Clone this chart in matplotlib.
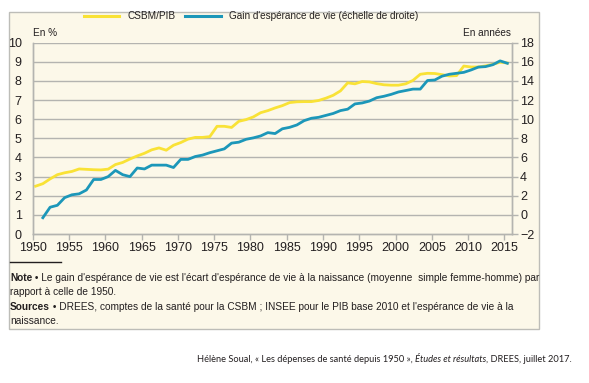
import matplotlib
matplotlib.use("Agg")
import matplotlib.pyplot as plt
from matplotlib.patches import Rectangle
from matplotlib.lines import Line2D
import numpy as np

plt.rcParams['font.family'] = ['Liberation Sans', 'DejaVu Sans']

# ---- data ----
years_csbm = list(range(1950, 2016))
csbm_pib = [2.50, 2.63, 2.88, 3.10, 3.20, 3.27, 3.40, 3.38, 3.36, 3.35,
            3.39, 3.63, 3.74, 3.92, 4.08, 4.22, 4.40, 4.50, 4.38, 4.64,
            4.78, 4.96, 5.05, 5.05, 5.09, 5.63, 5.63, 5.57, 5.89, 5.98,
            6.12, 6.34, 6.45, 6.59, 6.71, 6.87, 6.91, 6.92, 6.92, 6.98,
            7.10, 7.25, 7.48, 7.90, 7.85, 7.97, 7.95, 7.86, 7.80, 7.78,
            7.78, 7.85, 8.03, 8.35, 8.40, 8.39, 8.33, 8.26, 8.28, 8.78,
            8.73, 8.73, 8.79, 8.87, 8.98, 8.94]

years_gain = list(range(1951, 2016))
gain_esperance = [-0.3, 0.8, 1.0, 1.8, 2.1, 2.2, 2.6, 3.7, 3.7,
                  4.0, 4.65, 4.2, 4.0, 4.9, 4.8, 5.2, 5.2, 5.2, 4.95,
                  5.8, 5.8, 6.1, 6.25, 6.5, 6.7, 6.9, 7.5, 7.6, 7.9,
                  8.05, 8.25, 8.6, 8.5, 9.0, 9.15, 9.4, 9.85, 10.1, 10.2,
                  10.4, 10.6, 10.9, 11.05, 11.6, 11.7, 11.9, 12.25, 12.4, 12.6,
                  12.85, 13.0, 13.15, 13.15, 14.05, 14.1, 14.5, 14.7, 14.8, 14.9,
                  15.15, 15.45, 15.5, 15.7, 16.1, 15.85]

xticks = list(range(1950, 2016, 5))
left_ticks = list(range(0, 11))
right_ticks = list(range(-2, 19, 2))

label_csbm = "CSBM/PIB"
label_gain = "Gain d'espérance de vie (échelle de droite)"

YELLOW = "#f9e236"
BLUE = "#1c97b9"
BEIGE = "#fcf8e9"
GRID = "#b4b4b0"
TXT = "#231f20"

W, H = 589, 383
fig = plt.figure(figsize=(W / 100, H / 100), dpi=100)
fig.patch.set_facecolor("white")


def fx(px):
    return px / W


def fy(py):
    return 1 - py / H


# panel behind the chart
fig.patches.append(Rectangle((fx(9.3), fy(329)), fx(539) - fx(9.3), fy(12.3) - fy(329),
                             transform=fig.transFigure, facecolor=BEIGE,
                             edgecolor="#bdbdb8", lw=1.0, zorder=-5))

ax = fig.add_axes([fx(32.7), fy(234), fx(511.7) - fx(32.7), fy(42.7) - fy(234)])
ax.patch.set_visible(False)
ax2 = ax.twinx()
ax2.patch.set_visible(False)
ax.set_zorder(2)
ax2.set_zorder(3)

off = 0.4
ax.plot(np.array(years_csbm) + off, csbm_pib, color=YELLOW, lw=2.0, zorder=3,
        solid_joinstyle="round")
ax2.plot(np.array(years_gain) + off, gain_esperance, color=BLUE, lw=2.0, zorder=4,
         solid_joinstyle="round")

ax.set_xlim(1950, 2016)
ax.set_ylim(0, 10)
ax2.set_ylim(-2, 18)

for v in left_ticks[1:]:
    ax.axhline(v, color=GRID, lw=1.0, zorder=1)

ax.set_xticks(xticks)
ax.set_yticks(left_ticks)
ax2.set_yticks(right_ticks)

for a in (ax, ax2):
    for s in a.spines.values():
        s.set_color(GRID)
        s.set_linewidth(1.0)
    a.spines['top'].set_visible(False)

ax.tick_params(axis='x', direction='out', length=4, width=1, color=GRID,
               labelsize=9, labelcolor=TXT, pad=2)
ax.tick_params(axis='y', length=0, labelsize=9, labelcolor=TXT, pad=8)
ax2.tick_params(axis='y', direction='out', length=4, width=1, color=GRID,
                labelsize=9, labelcolor=TXT, pad=2)

fig.text(fx(33), fy(33), "En %", fontsize=7.2, color=TXT, ha='left', va='center')
fig.text(fx(511), fy(33), "En années", fontsize=7.2, color=TXT, ha='right', va='center')

# legend
fig.lines.append(Line2D([fx(84), fx(119)], [fy(15.7), fy(15.7)], transform=fig.transFigure,
                        color=YELLOW, lw=2.2))
fig.text(fx(127), fy(16), label_csbm, fontsize=7.2, color=TXT, ha='left', va='center')
fig.lines.append(Line2D([fx(185), fx(221)], [fy(15.7), fy(15.7)], transform=fig.transFigure,
                        color=BLUE, lw=2.2))
fig.text(fx(229), fy(16), label_gain, fontsize=7.2, color=TXT, ha='left', va='center')

# separator
fig.lines.append(Line2D([fx(10), fx(61)], [fy(262.3), fy(262.3)], transform=fig.transFigure,
                        color=TXT, lw=1.0))

renderer = fig.canvas.get_renderer()


def chain(x, y, parts, size, family=None):
    # draw consecutive text pieces with different weights/styles
    for txt, kw in parts:
        t = fig.text(fx(x), fy(y), txt, fontsize=size, color=TXT, ha='left', va='center', **kw)
        if family:
            t.set_fontfamily(family)
        bb = t.get_window_extent(renderer)
        x += bb.width


note_size = 7.28
chain(10, 277.7, [("Note", dict(weight='bold')),
                  (" • Le gain d'espérance de vie est l'écart d'espérance de vie à la naissance "
                   "(moyenne  simple femme-homme) par", {})], note_size)
chain(10, 291.7, [("rapport à celle de 1950.", {})], note_size)
chain(10, 306.7, [("Sources", dict(weight='bold')),
                  (" • DREES, comptes de la santé pour la CSBM ; INSEE pour le PIB base 2010 "
                   "et l'espérance de vie à la", {})], note_size)
chain(10, 320.7, [("naissance.", {})], note_size)

cite_font = ['Lato', 'DejaVu Sans']
chain(197, 359, [("Hélène Soual, « Les dépenses de santé depuis 1950 », ", {}),
                 ("Études et résultats", dict(style='italic')),
                 (", DREES, juillet 2017.", {})], 6.7, cite_font)

fig.savefig("out.png", dpi=100)
